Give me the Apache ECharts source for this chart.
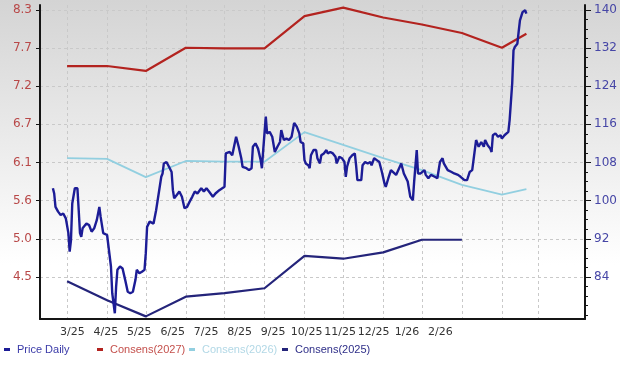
<!DOCTYPE html>
<html><head><meta charset="utf-8">
<script src="https://cdn.jsdelivr.net/npm/echarts@6/dist/echarts.min.js"></script>
<style>
html,body{margin:0;padding:0;background:#fff}
#c{width:620px;height:373px;background:linear-gradient(to bottom,#d4d4d4 0px,#ffffff 265px)}
</style>
</head><body><div id="c"></div>
<script>
const xLabels = ['3/25','4/25','5/25','6/25','7/25','8/25','9/25','10/25','11/25','12/25','1/26','2/26'];
const monthStarts = ['2025-03-01','2025-04-01','2025-05-01','2025-06-01','2025-07-01','2025-08-01','2025-09-01','2025-10-01','2025-11-01','2025-12-01','2026-01-01','2026-02-01','2026-03-01'];
const priceTicks = [84,92,100,108,116,124,132,140];
const priceMinorTicks = [76,78,80,82,84,86,88,90,92,94,96,98,100,102,104,106,108,110,112,114,116,118,120,122,124,126,128,130,132,134,136,138,140];
const epsLabels = ['4.5','5.0','5.6','6.1','6.7','7.2','7.7','8.3'];
const seriesNames = ['Price Daily','Consens(2027)','Consens(2026)','Consens(2025)'];

const consensDates = ['2025-03-01','2025-04-01','2025-05-01','2025-06-01','2025-07-01','2025-08-01','2025-09-01','2025-10-01','2025-11-01','2025-12-01','2026-01-01','2026-02-01','2026-02-20'];
const consens2027 = [7.50,7.50,7.43,7.76,7.75,7.75,8.21,8.33,8.19,8.09,7.97,7.76,7.96];
const consens2026 = [6.19,6.18,5.92,6.15,6.14,6.14,6.56,6.38,6.19,6.02,5.81,5.67,5.75];
const consens2025Dates = ['2025-03-01','2025-04-01','2025-05-01','2025-06-01','2025-07-01','2025-08-01','2025-09-01','2025-10-01','2025-11-01','2025-12-01','2026-01-01'];
const consens2025 = [4.44,4.17,3.94,4.22,4.27,4.34,4.80,4.76,4.85,5.03,5.03];

const priceDates = ['2025-02-18','2025-02-19','2025-02-20','2025-02-22','2025-02-24','2025-02-26','2025-02-28','2025-03-02','2025-03-03','2025-03-04','2025-03-05','2025-03-07','2025-03-09','2025-03-10','2025-03-11','2025-03-12','2025-03-13','2025-03-16','2025-03-18','2025-03-20','2025-03-22','2025-03-24','2025-03-26','2025-03-27','2025-03-29','2025-04-01','2025-04-02','2025-04-04','2025-04-05','2025-04-07','2025-04-08','2025-04-09','2025-04-11','2025-04-13','2025-04-15','2025-04-17','2025-04-19','2025-04-21','2025-04-23','2025-04-24','2025-04-26','2025-04-28','2025-04-30','2025-05-01','2025-05-02','2025-05-04','2025-05-07','2025-05-08','2025-05-09','2025-05-11','2025-05-13','2025-05-14','2025-05-15','2025-05-17','2025-05-19','2025-05-21','2025-05-22','2025-05-23','2025-05-25','2025-05-27','2025-05-29','2025-05-31','2025-06-02','2025-06-04','2025-06-06','2025-06-08','2025-06-10','2025-06-13','2025-06-15','2025-06-17','2025-06-19','2025-06-22','2025-06-24','2025-06-27','2025-07-01','2025-07-02','2025-07-05','2025-07-07','2025-07-10','2025-07-12','2025-07-14','2025-07-15','2025-07-18','2025-07-20','2025-07-22','2025-07-23','2025-07-25','2025-07-27','2025-07-29','2025-07-30','2025-07-31','2025-08-02','2025-08-03','2025-08-05','2025-08-07','2025-08-09','2025-08-11','2025-08-13','2025-08-14','2025-08-16','2025-08-18','2025-08-20','2025-08-22','2025-08-24','2025-08-26','2025-08-28','2025-08-29','2025-08-31','2025-09-01','2025-09-02','2025-09-04','2025-09-05','2025-09-06','2025-09-08','2025-09-10','2025-09-11','2025-09-13','2025-09-14','2025-09-16','2025-09-18','2025-09-19','2025-09-21','2025-09-23','2025-09-25','2025-09-26','2025-09-28','2025-09-30','2025-10-02','2025-10-03','2025-10-04','2025-10-06','2025-10-08','2025-10-10','2025-10-11','2025-10-12','2025-10-15','2025-10-16','2025-10-18','2025-10-20','2025-10-22','2025-10-23','2025-10-25','2025-10-27','2025-10-29','2025-10-31','2025-11-02','2025-11-03','2025-11-05','2025-11-07','2025-11-11','2025-11-15','2025-11-17','2025-11-20','2025-11-22','2025-11-24','2025-11-25','2025-11-27','2025-11-28','2025-11-30','2025-12-03','2025-12-04','2025-12-06','2025-12-08','2025-12-11','2025-12-13','2025-12-15','2025-12-17','2025-12-18','2025-12-21','2025-12-24','2025-12-26','2025-12-29','2025-12-31','2026-01-03','2026-01-05','2026-01-07','2026-01-09','2026-01-10','2026-01-12','2026-01-14','2026-01-16','2026-01-18','2026-01-19','2026-01-21','2026-01-23','2026-01-24','2026-01-25','2026-01-27','2026-01-29','2026-01-31','2026-02-01','2026-02-03','2026-02-06','2026-02-07','2026-02-09','2026-02-10','2026-02-11','2026-02-13','2026-02-14','2026-02-15','2026-02-17','2026-02-19','2026-02-20'];
const priceValues = [102.6,101.5,98.7,97.7,97.0,97.3,96.3,93.2,89.3,91.7,
99.4,102.6,102.6,98.0,93.2,92.4,94.2,95.2,94.9,93.5,
94.2,95.9,98.7,96.6,93.2,92.8,92.4,86.2,80.6,76.4,
82.0,85.5,86.2,85.8,83.4,80.9,80.6,80.9,83.4,85.5,
84.8,85.1,85.5,89.0,94.5,95.6,95.2,94.9,98.0,101.5,
105.0,105.7,107.8,108.1,107.1,106.0,102.2,100.5,101.2,101.9,
100.8,98.4,98.7,99.8,100.8,101.9,101.5,102.6,101.9,102.6,
101.9,100.8,101.5,102.2,102.9,109.9,110.2,109.5,113.4,111.3,
108.9,107.1,106.8,106.4,106.8,111.3,112.0,110.9,108.5,106.8,
110.6,117.6,114.1,114.4,113.4,110.2,111.3,112.3,114.8,112.7,
113.0,112.7,113.4,116.3,115.5,114.1,112.3,112.0,108.5,107.8,
107.4,106.8,109.5,110.6,110.6,108.9,107.8,109.5,109.9,110.6,
109.9,110.2,109.9,109.2,107.8,109.2,108.9,108.1,105.0,107.1,
108.9,109.5,109.9,107.4,104.3,104.3,107.4,108.1,107.8,108.1,
107.4,108.9,108.5,108.1,106.0,103.6,102.9,104.7,106.4,105.4,
107.8,105.7,104.0,100.8,100.1,104.0,110.6,105.7,105.7,106.4,
105.4,104.7,105.4,105.0,104.7,108.1,108.9,107.8,106.4,106.0,
105.7,105.4,105.0,104.3,104.3,106.0,106.4,108.5,112.7,111.3,
112.3,111.3,112.7,111.6,110.9,110.2,113.7,114.1,113.4,113.7,
113.0,113.7,114.4,116.9,124.6,131.5,132.2,132.9,135.4,137.8,
139.5,139.9,139.2];

// left (EPS) axis is a linear re-labelling of the right (price) axis
const PMIN = 75.2, PMAX = 141;
const epsAt = p => 4.5 + (p - 84) * 3.8 / 56;
const epsTicks = priceTicks.map(epsAt);

const legendFont = "'Liberation Sans',Arial,sans-serif";
const axisFont = "'DejaVu Sans',Verdana,sans-serif";
const legendLefts = [4, 97, 189, 282];
const legendTextColors = ['#3a3aa8', '#c4504c', '#b2d8e6', '#2e2e88'];

const chart = echarts.init(document.getElementById('c'), null, {renderer: 'canvas'});
chart.setOption({
  animation: false,
  backgroundColor: 'transparent',
  grid: [
    {left: 40, right: 35, top: 5, bottom: 54},
    {left: 55.6, right: 162.8, bottom: 54, height: 10}
  ],
  legend: seriesNames.map((n, i) => ({
    left: legendLefts[i], top: 344, padding: 0, icon: 'rect', itemWidth: 6, itemHeight: 3,
    selectedMode: false,
    textStyle: {fontFamily: legendFont, fontSize: 11, color: legendTextColors[i], padding: [0, 0, 0, 2]},
    data: [n]
  })),
  xAxis: [
    {
      type: 'time', gridIndex: 0, min: '2025-02-08', max: '2026-04-06 10:00',
      axisLine: {show: true, lineStyle: {color: '#151515', width: 2}},
      axisTick: {show: false, customValues: monthStarts},
      axisLabel: {show: false},
      splitLine: {show: true, lineStyle: {color: '#c9c9c9', type: [3, 3], width: 1}}
    },
    {
      type: 'category', gridIndex: 1, data: xLabels, boundaryGap: true,
      axisLine: {show: false}, axisTick: {show: false}, splitLine: {show: false},
      axisLabel: {margin: 8, color: '#333', fontFamily: axisFont, fontSize: 11, interval: 0}
    }
  ],
  yAxis: [
    {
      type: 'value', gridIndex: 0, position: 'left', min: epsAt(PMIN), max: epsAt(PMAX),
      axisLine: {show: true, lineStyle: {color: '#151515', width: 2}},
      axisTick: {show: true, length: 4, customValues: epsTicks, lineStyle: {color: '#151515'}},
      axisLabel: {
        customValues: epsTicks, margin: 8, color: '#b84848', fontFamily: axisFont, fontSize: 12,
        formatter: v => {
          let best = 0, d = Infinity;
          epsTicks.forEach((t, i) => { if (Math.abs(t - v) < d) { d = Math.abs(t - v); best = i; } });
          return epsLabels[best];
        }
      },
      splitLine: {show: false}
    },
    {
      type: 'value', gridIndex: 0, position: 'right', min: PMIN, max: PMAX,
      axisLine: {show: true, lineStyle: {color: '#151515', width: 2}},
      axisTick: {show: true, length: 6, customValues: priceTicks, lineStyle: {color: '#151515'}},
      axisLabel: {customValues: priceTicks, margin: 9, color: '#4646a6', fontFamily: axisFont, fontSize: 12},
      splitLine: {show: true, lineStyle: {color: '#c9c9c9', type: [3, 3], width: 1}}
    },
    {
      type: 'value', gridIndex: 0, position: 'right', min: PMIN, max: PMAX,
      axisLine: {show: false},
      axisTick: {show: true, length: 3, customValues: priceMinorTicks, lineStyle: {color: '#151515'}},
      axisLabel: {show: false}, splitLine: {show: false}
    },
    {type: 'value', gridIndex: 1, show: false}
  ],
  series: [
    {
      name: seriesNames[0], type: 'line', xAxisIndex: 0, yAxisIndex: 1, z: 5,
      showSymbol: false, clip: false,
      color: '#1c1c96', lineStyle: {color: '#1c1c96', width: 2.4},
      data: priceDates.map((d, i) => [d, priceValues[i]])
    },
    {
      name: seriesNames[1], type: 'line', xAxisIndex: 0, yAxisIndex: 0, z: 3,
      showSymbol: false, clip: false,
      color: '#b3231f', lineStyle: {color: '#b3231f', width: 2.2},
      data: consensDates.map((d, i) => [d, consens2027[i]])
    },
    {
      name: seriesNames[2], type: 'line', xAxisIndex: 0, yAxisIndex: 0, z: 3,
      showSymbol: false, clip: false,
      color: '#92cfe0', lineStyle: {color: '#92cfe0', width: 1.8},
      data: consensDates.map((d, i) => [d, consens2026[i]])
    },
    {
      name: seriesNames[3], type: 'line', xAxisIndex: 0, yAxisIndex: 0, z: 3,
      showSymbol: false, clip: false,
      color: '#24247a', lineStyle: {color: '#24247a', width: 2.2},
      data: consens2025Dates.map((d, i) => [d, consens2025[i]])
    }
  ]
});
</script>
</body></html>
